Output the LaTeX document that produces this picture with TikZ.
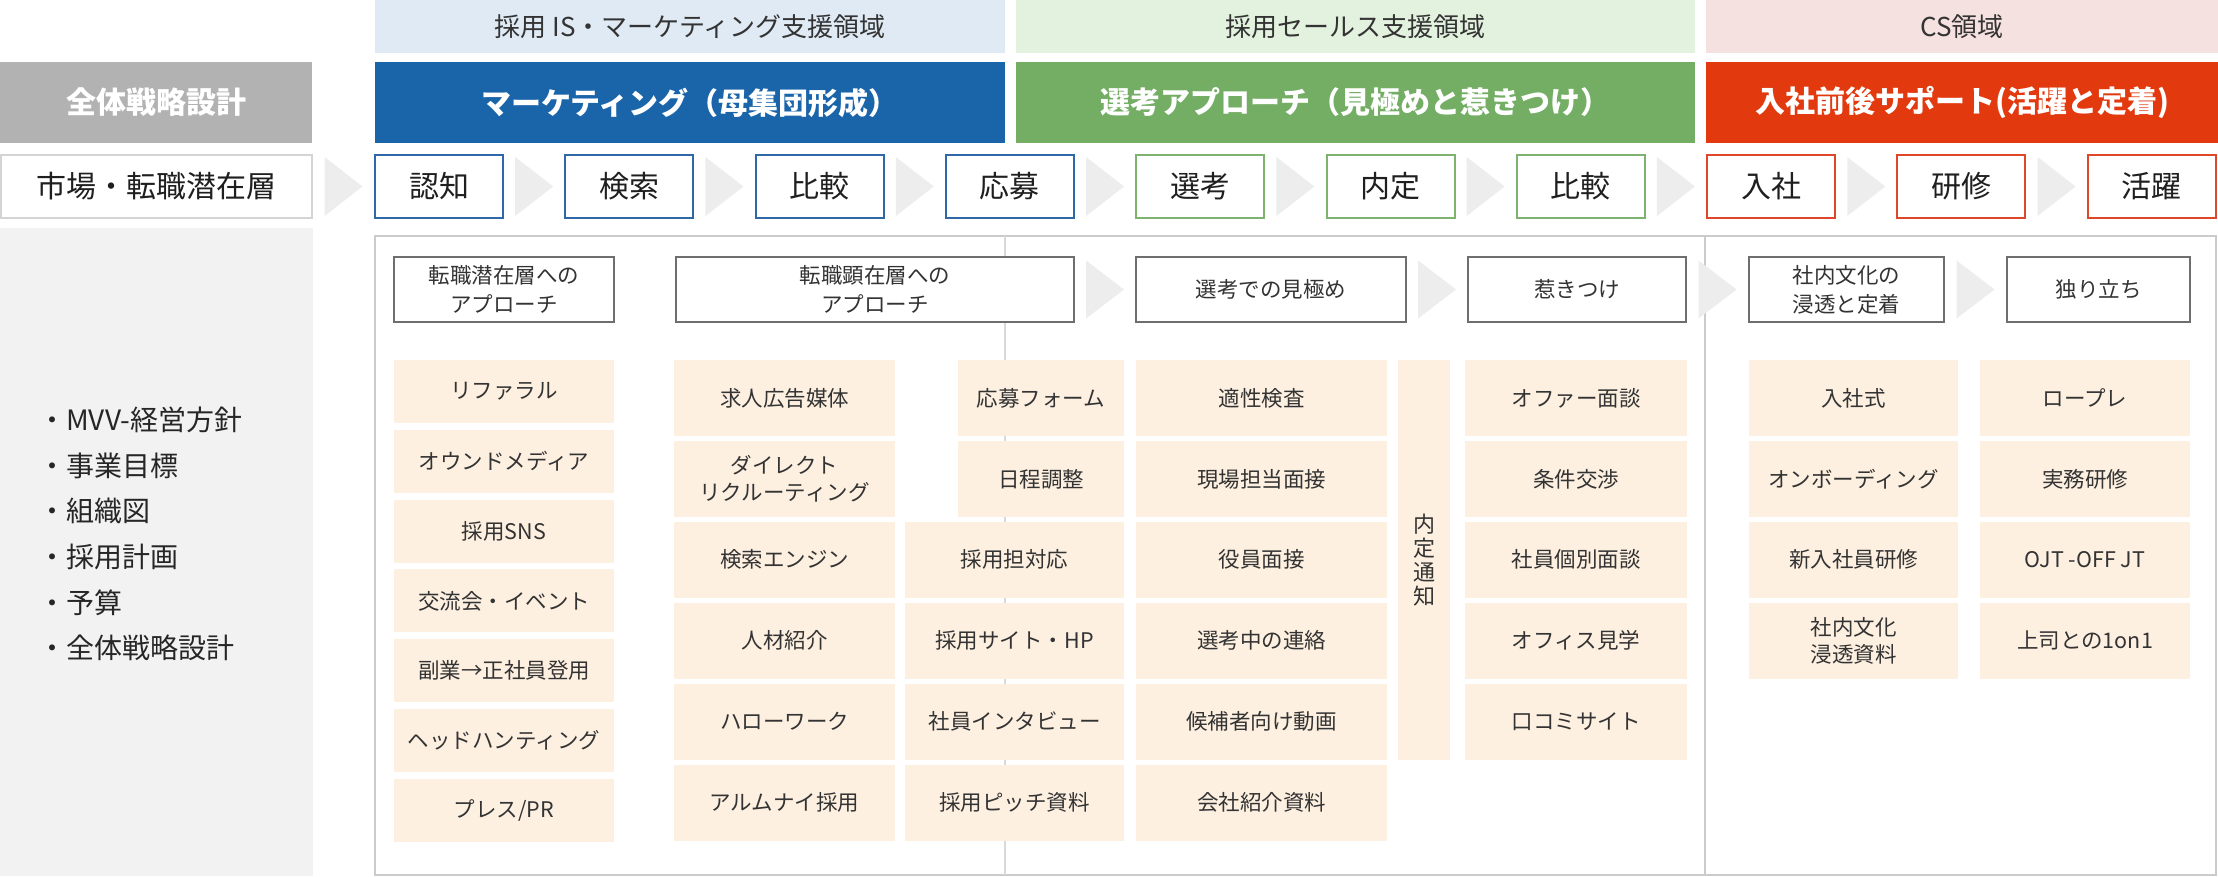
\documentclass[tikz,border=0pt]{standalone}
\usepackage{fontspec}
\setmainfont{Noto Sans CJK JP}
\usetikzlibrary{calc}
\definecolor{bandAclr}{HTML}{DFEAF5}
\definecolor{bandBclr}{HTML}{E3F2DF}
\definecolor{bandCclr}{HTML}{F5E1DF}
\definecolor{ttlgray}{HTML}{B2B2B2}
\definecolor{ttlblue}{HTML}{1A64A9}
\definecolor{ttlgreen}{HTML}{73AE64}
\definecolor{ttlred}{HTML}{E2390F}
\definecolor{stpblue}{HTML}{2E68A8}
\definecolor{stpgreen}{HTML}{7DB36E}
\definecolor{stpred}{HTML}{E0462A}
\definecolor{stpgray}{HTML}{D4D4D4}
\definecolor{creamclr}{HTML}{FDF0E1}
\definecolor{panelclr}{HTML}{F2F2F2}
\definecolor{chevclr}{HTML}{EDEDED}
\definecolor{frameclr}{HTML}{CBCBCB}
\definecolor{dividerclr}{HTML}{D9D9D9}
\definecolor{hdrclr}{HTML}{6E6E6E}
\definecolor{txtclr}{HTML}{333333}
\tikzset{
  base/.style={rectangle, inner sep=0pt, outer sep=0pt, anchor=north west, align=center, text=txtclr},
  band/.style={base, font=\fontsize{26}{30}\selectfont},
  ttl/.style={base, text=white, font=\bfseries\fontsize{30}{36}\selectfont},
  stepbox/.style={base, fill=white, draw, line width=2pt, font=\fontsize{30}{36}\selectfont, text=black!88},
  hdrbox/.style={base, fill=white, draw=hdrclr, line width=2pt, font=\fontsize{21.5}{29}\selectfont},
  item/.style={base, fill=creamclr, font=\fontsize{21.5}{27}\selectfont},
  chevfill/.style={fill=chevclr},
}
\newcommand\bx[7]{\node[#1, minimum width=#5pt, minimum height=#6pt] (#2) at (#3,#4) {#7};}
\newcommand\chevron[3]{\coordinate (cm) at ($(#1.east)!0.5!(#2.west)$);
  \fill[chevfill] ([shift={(-19,-#3)}]cm) -- ([shift={(19,0)}]cm) -- ([shift={(-19,#3)}]cm) -- cycle;}
\begin{document}
\begin{tikzpicture}[x=1pt,y=-1pt]
\fill[white] (0,0) rectangle (2218,876);
\useasboundingbox (0,0) rectangle (2218,876);
% top bands
\bx{band,fill=bandAclr}{bandA}{375}{0}{630}{53}{採用 IS・マーケティング支援領域}
\bx{band,fill=bandBclr}{bandB}{1016}{0}{679}{53}{採用セールス支援領域}
\bx{band,fill=bandCclr}{bandC}{1706}{0}{512}{53}{CS領域}
% titles
\bx{ttl,fill=ttlgray}{tAll}{0}{62}{312}{81}{全体戦略設計}
\bx{ttl,fill=ttlblue}{tMkt}{375}{62}{630}{81}{マーケティング（母集団形成）}
\bx{ttl,fill=ttlgreen}{tSel}{1016}{62}{679}{81}{選考アプローチ（見極めと惹きつけ）}
\bx{ttl,fill=ttlred}{tCS}{1706}{62}{512}{81}{入社前後サポート(活躍と定着)}
% steps
\bx{stepbox,draw=stpgray}{s0}{1}{155}{311}{63}{市場・転職潜在層}
\bx{stepbox,draw=stpblue}{s1}{375}{155}{128}{63}{認知}
\bx{stepbox,draw=stpblue}{s2}{565.3}{155}{128}{63}{検索}
\bx{stepbox,draw=stpblue}{s3}{755.6}{155}{128}{63}{比較}
\bx{stepbox,draw=stpblue}{s4}{945.9}{155}{128}{63}{応募}
\bx{stepbox,draw=stpgreen}{s5}{1136.2}{155}{128}{63}{選考}
\bx{stepbox,draw=stpgreen}{s6}{1326.5}{155}{128}{63}{内定}
\bx{stepbox,draw=stpgreen}{s7}{1516.8}{155}{128}{63}{比較}
\bx{stepbox,draw=stpred}{s8}{1707.1}{155}{128}{63}{入社}
\bx{stepbox,draw=stpred}{s9}{1897.4}{155}{128}{63}{研修}
\bx{stepbox,draw=stpred}{s10}{2087.7}{155}{128}{63}{活躍}
\chevron{s0}{s1}{29.5}
\chevron{s1}{s2}{29.5}
\chevron{s2}{s3}{29.5}
\chevron{s3}{s4}{29.5}
\chevron{s4}{s5}{29.5}
\chevron{s5}{s6}{29.5}
\chevron{s6}{s7}{29.5}
\chevron{s7}{s8}{29.5}
\chevron{s8}{s9}{29.5}
\chevron{s9}{s10}{29.5}
% left panel
\bx{base,fill=panelclr}{panel}{0}{228}{313}{648}{}
\node[base, anchor=west, align=left, font=\fontsize{28}{45.6}\selectfont, text=black!85] (mvv) at (38,534)
  {・MVV-経営方針\\・事業目標\\・組織図\\・採用計画\\・予算\\・全体戦略設計};
% frame and dividers
\bx{base,draw=frameclr,line width=2.5pt}{frm}{375}{236}{1841}{639}{}
\draw[dividerclr, line width=1.5pt] (1005,236) -- (1005,875);
\draw[frameclr, line width=2.5pt] (1705,236) -- (1705,875);
% header boxes
\bx{hdrbox}{h1}{394}{257}{220}{65}{転職潜在層への\\アプローチ}
\bx{hdrbox}{h2}{676}{257}{398}{65}{転職顕在層への\\アプローチ}
\bx{hdrbox}{h3}{1136}{257}{270}{65}{選考での見極め}
\bx{hdrbox}{h4}{1468}{257}{218}{65}{惹きつけ}
\bx{hdrbox}{h5}{1749}{257}{195}{65}{社内文化の\\浸透と定着}
\bx{hdrbox}{h6}{2007}{257}{183}{65}{独り立ち}
\chevron{h2}{h3}{29}
\chevron{h3}{h4}{29}
\chevron{h4}{h5}{29}
\chevron{h5}{h6}{29}
% column L
\bx{item}{l1}{394}{360}{220}{63}{リファラル}
\bx{item}{l2}{394}{429.8}{220}{63}{オウンドメディア}
\bx{item}{l3}{394}{499.6}{220}{63}{採用SNS}
\bx{item}{l4}{394}{569.4}{220}{63}{交流会・イベント}
\bx{item}{l5}{394}{639.2}{220}{63}{副業→正社員登用}
\bx{item}{l6}{394}{709}{220}{63}{ヘッドハンティング}
\bx{item}{l7}{394}{778.8}{220}{63}{プレス/PR}
% column M1
\bx{item}{m1}{674}{360}{221}{76}{求人広告媒体}
\bx{item}{m2}{674}{440.9}{221}{76}{ダイレクト\\リクルーティング}
\bx{item}{m3}{674}{521.8}{221}{76}{検索エンジン}
\bx{item}{m4}{674}{602.7}{221}{76}{人材紹介}
\bx{item}{m5}{674}{683.6}{221}{76}{ハローワーク}
\bx{item}{m6}{674}{764.5}{221}{76}{アルムナイ採用}
% column M2
\bx{item}{n1}{958}{360}{166}{76}{応募フォーム}
\bx{item}{n2}{958}{440.9}{166}{76}{日程調整}
\bx{item}{n3}{905}{521.8}{219}{76}{採用担対応}
\bx{item}{n4}{905}{602.7}{219}{76}{採用サイト・HP}
\bx{item}{n5}{905}{683.6}{219}{76}{社員インタビュー}
\bx{item}{n6}{905}{764.5}{219}{76}{採用ピッチ資料}
% column S
\bx{item}{p1}{1136}{360}{251}{76}{適性検査}
\bx{item}{p2}{1136}{440.9}{251}{76}{現場担当面接}
\bx{item}{p3}{1136}{521.8}{251}{76}{役員面接}
\bx{item}{p4}{1136}{602.7}{251}{76}{選考中の連絡}
\bx{item}{p5}{1136}{683.6}{251}{76}{候補者向け動画}
\bx{item}{p6}{1136}{764.5}{251}{76}{会社紹介資料}
% naitei
\bx{item,font=\fontsize{22}{24}\selectfont}{nt}{1398}{360}{52}{400}{内\\定\\通\\知}
% column A
\bx{item}{a1}{1465}{360}{222}{76}{オファー面談}
\bx{item}{a2}{1465}{440.9}{222}{76}{条件交渉}
\bx{item}{a3}{1465}{521.8}{222}{76}{社員個別面談}
\bx{item}{a4}{1465}{602.7}{222}{76}{オフィス見学}
\bx{item}{a5}{1465}{683.6}{222}{76}{口コミサイト}
% column C1
\bx{item}{c1}{1749}{360}{209}{76}{入社式}
\bx{item}{c2}{1749}{440.9}{209}{76}{オンボーディング}
\bx{item}{c3}{1749}{521.8}{209}{76}{新入社員研修}
\bx{item}{c4}{1749}{602.7}{209}{76}{社内文化\\浸透資料}
% column C2
\bx{item}{d1}{1980}{360}{210}{76}{ロープレ}
\bx{item}{d2}{1980}{440.9}{210}{76}{実務研修}
\bx{item}{d3}{1980}{521.8}{210}{76}{OJT -OFF JT}
\bx{item}{d4}{1980}{602.7}{210}{76}{上司との1on1}
\end{tikzpicture}
\end{document}
